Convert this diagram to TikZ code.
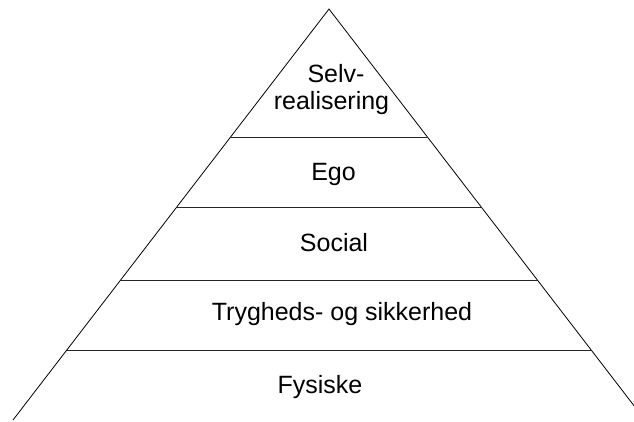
\documentclass[tikz,border=0pt]{standalone}
\usepackage{fontspec}
\setmainfont{Liberation Sans}
\usetikzlibrary{calc}
\begin{document}
\begin{tikzpicture}[x=1pt,y=1pt,
  edge/.style={line width=0.8pt,black},
  tier/.style={line width=0.8pt,black!85},
  label/.style={anchor=base,inner sep=0pt,font=\fontsize{25}{27}\selectfont}]
  \useasboundingbox (0,0) rectangle (634,-421);
  \begin{scope}
    \clip (0,0) rectangle (634,-421);
    % pyramid sides
    \coordinate (apex) at (329,-9);
    \coordinate (baseL) at (13,-420);
    \coordinate (baseR) at (645,-420);
    \draw[edge] (baseL) -- (apex) -- (baseR);
    % tier dividers
    \foreach \t/\n in {0.3114/a,0.4818/b,0.6594/c,0.8297/d}{
      \coordinate (l\n) at ($(apex)!\t!(baseL)$);
      \coordinate (r\n) at ($(apex)!\t!(baseR)$);
      \draw[tier] (l\n) -- (r\n);
    }
  \end{scope}
  % tier labels
  \node[label] (selv) at (336,-82) {Selv-};
  \node[label] (real) at (331.5,-109) {realisering};
  \node[label] (ego) at (333.5,-180) {Ego};
  \node[label] (social) at (334,-251) {Social};
  \node[label] (tryg) at (342,-320) {Trygheds- og sikkerhed};
  \node[label] (fys) at (320,-393) {Fysiske};
\end{tikzpicture}
\end{document}
